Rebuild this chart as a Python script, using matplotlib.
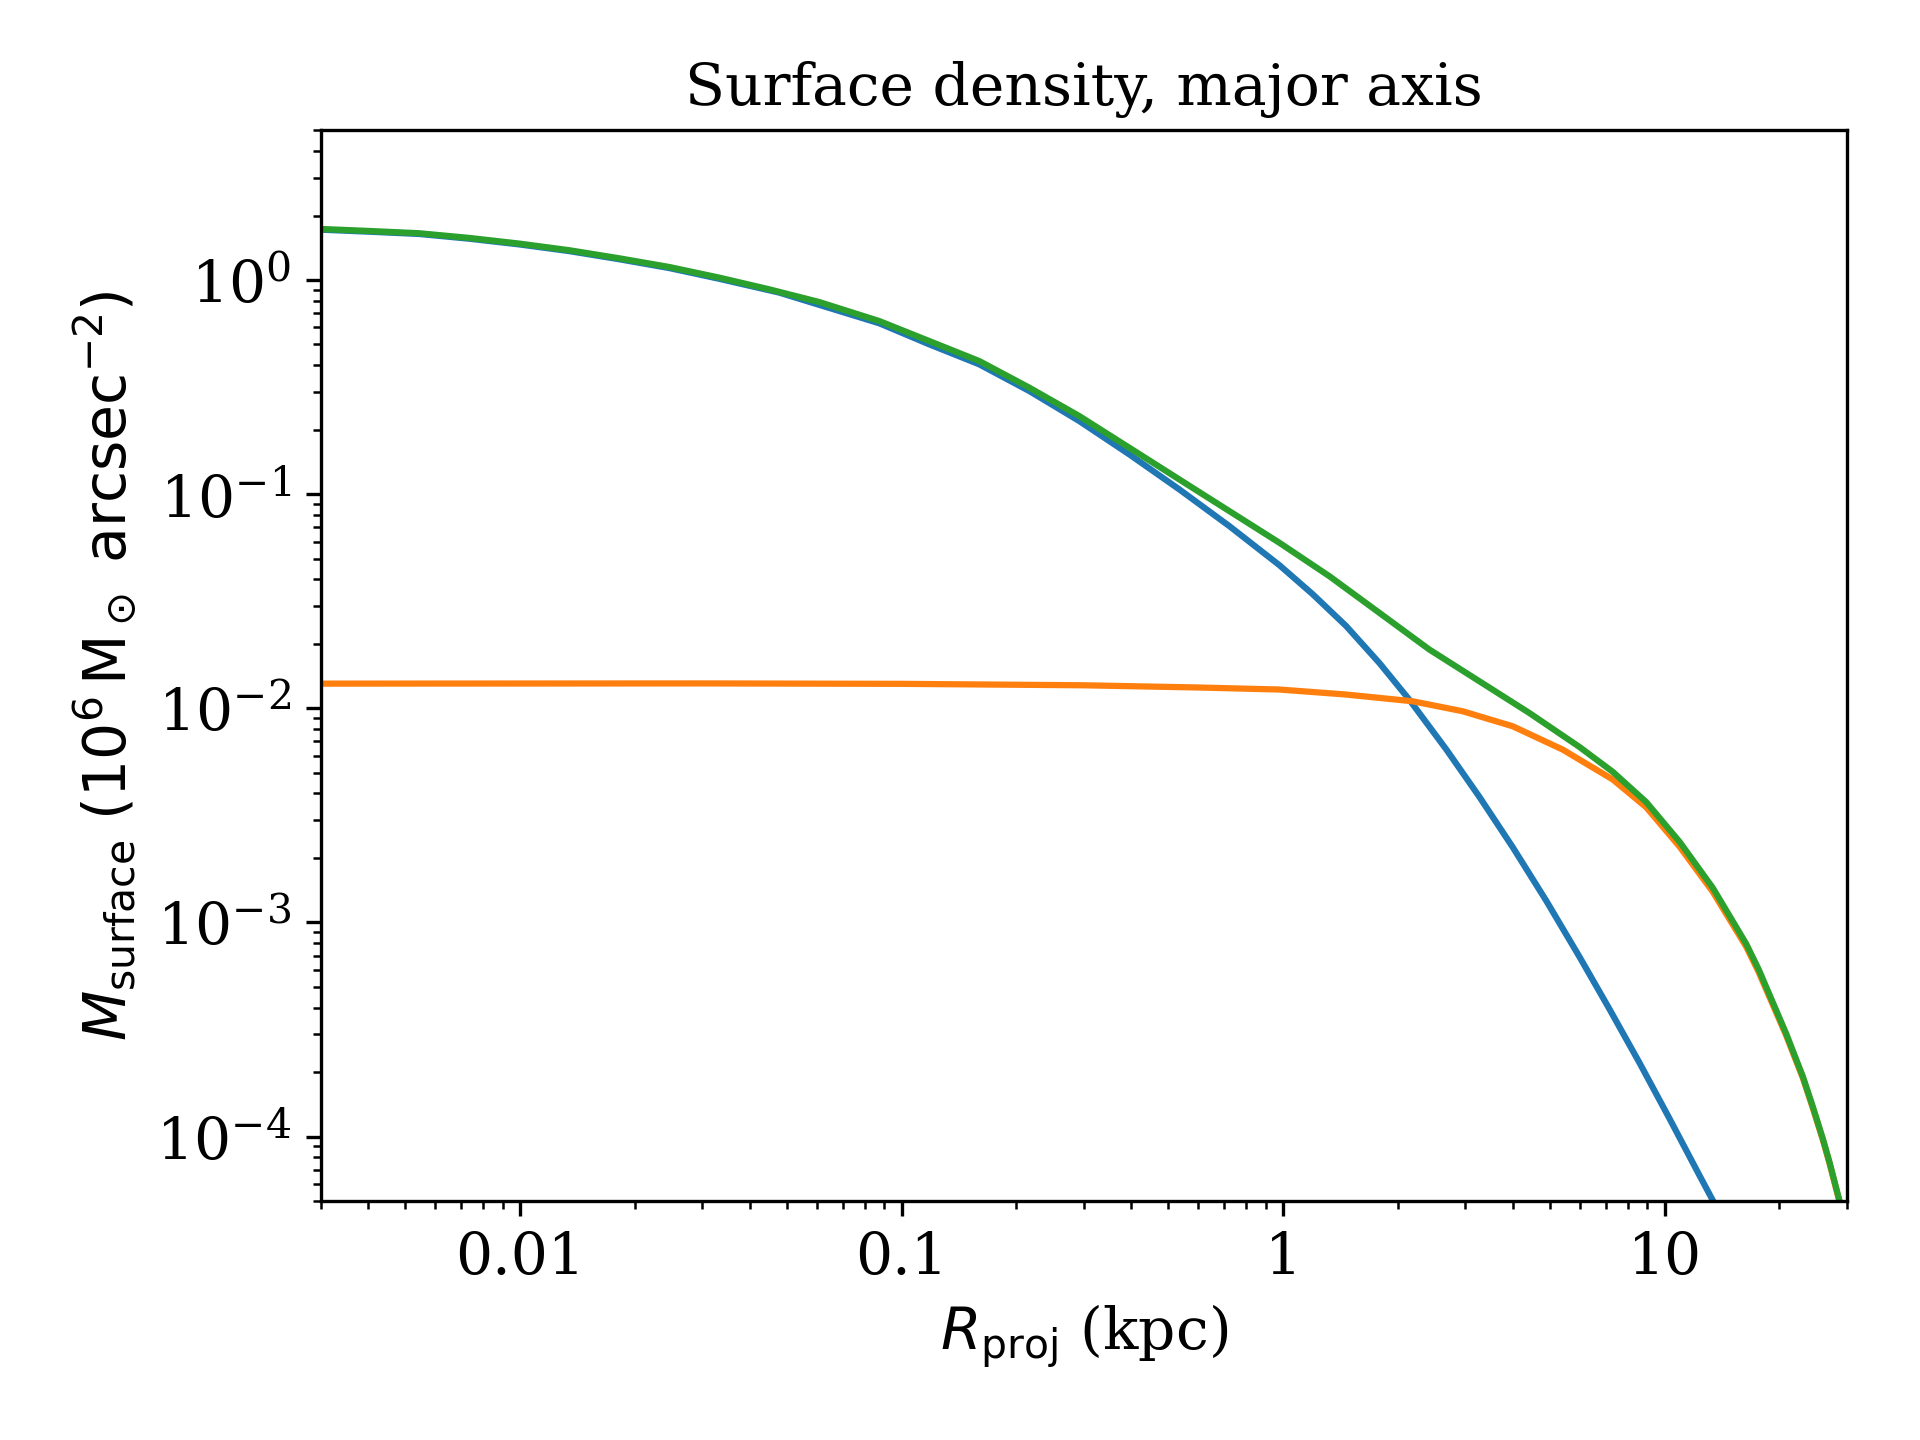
import matplotlib
matplotlib.use("Agg")
import matplotlib.pyplot as plt

# Projected radius (kpc) and surface density (1e6 Msun / arcsec^2)
r_total = [0.003, 0.00402, 0.00544, 0.00735, 0.00995, 0.01346, 0.01818, 0.02459, 0.03324,
           0.04496, 0.0608, 0.0874, 0.1181, 0.1598, 0.2161, 0.2922, 0.3952, 0.5344,
           0.7228, 0.9773, 1.322, 1.787, 2.417, 3.268, 4.421, 5.977, 7.310, 8.944,
           10.94, 13.37, 16.36, 17.64, 19.60, 20.83, 22.23, 23.02, 24.45, 25.98, 27.05,
           28.73, 30.0]
m_total = [1.731, 1.694, 1.653, 1.572, 1.479, 1.377, 1.263, 1.150, 1.026,
           0.9047, 0.789, 0.643, 0.5188, 0.4182, 0.3142, 0.2315, 0.1647, 0.1171,
           0.0833, 0.0593, 0.04137, 0.02791, 0.01880, 0.01337, 0.00950, 0.00660, 0.00505, 0.00365,
           0.00238, 0.00145, 0.000794, 0.000603, 0.000389, 0.000302, 0.000224, 0.000191, 0.000138,
           9.77e-5, 7.59e-5, 5.01e-5, 3.7e-5]

r_main = [0.003, 0.00402, 0.00544, 0.00735, 0.00995, 0.01346, 0.01818, 0.02459, 0.03324,
          0.04776, 0.0874, 0.1181, 0.1598, 0.2161, 0.2922, 0.3952, 0.5344, 0.7228,
          0.9773, 1.195, 1.462, 1.787, 2.142, 2.674, 3.268, 3.998, 4.890, 5.977,
          7.165, 8.590, 10.29, 12.34, 13.35, 14.5]
m_main = [1.718, 1.681, 1.640, 1.559, 1.466, 1.364, 1.250, 1.137, 1.013,
          0.8733, 0.6276, 0.5006, 0.4036, 0.3030, 0.2194, 0.1533, 0.1052, 0.0709,
          0.0466, 0.0341, 0.02423, 0.01628, 0.01096, 0.00644, 0.00386, 0.002244, 0.001265, 0.000692,
          0.000394, 0.000221, 0.0001216, 6.58e-5, 5.06e-5, 3.8e-5]

r_halo = [0.003, 0.03, 0.1, 0.3, 0.6, 0.9773, 1.462, 2.185, 2.955, 3.998, 5.404,
          7.310, 8.944, 10.94, 13.37, 16.36, 17.64, 19.60, 20.83, 22.23, 23.02, 24.45,
          25.98, 27.05, 28.73, 30.0]
m_halo = [0.01303, 0.01306, 0.01300, 0.01280, 0.01250, 0.01223, 0.01159, 0.01078, 0.009683,
          0.008237, 0.006412, 0.00465, 0.00345, 0.00226, 0.00139, 0.000770, 0.000586, 0.000380,
          0.000296, 0.000220, 0.000188, 0.000136, 9.65e-5, 7.50e-5, 4.95e-5, 3.65e-5]

plt.rcParams['font.family'] = ['DejaVu Serif']
plt.rcParams['mathtext.fontset'] = 'dejavusans'

fig = plt.figure(figsize=(6.4, 4.8), dpi=300)
ax = fig.add_axes([0.167, 0.166, 0.7948, 0.7435])

ax.plot(r_main, m_main, color='#1f77b4', lw=1.5)
ax.plot(r_halo, m_halo, color='#ff7f0e', lw=1.5)
ax.plot(r_total, m_total, color='#2ca02c', lw=1.5)

ax.set_xscale('log')
ax.set_yscale('log')
ax.set_xlim(0.003, 30)
ax.set_ylim(5e-5, 5)
ax.set_xticks([0.01, 0.1, 1, 10])
ax.set_xticklabels(['0.01', '0.1', '1', '10'])
ax.tick_params(labelsize=14)

ax.set_xlabel(r'$R_{\rm proj}$ (kpc)', fontsize=14)
ax.set_ylabel(r'$M_{\rm surface}\ (10^6\,{\rm M_\odot\ arcsec^{-2}})$', fontsize=14)
ax.set_title('Surface density, major axis', fontsize=14)

fig.savefig('out.png', dpi=300)
